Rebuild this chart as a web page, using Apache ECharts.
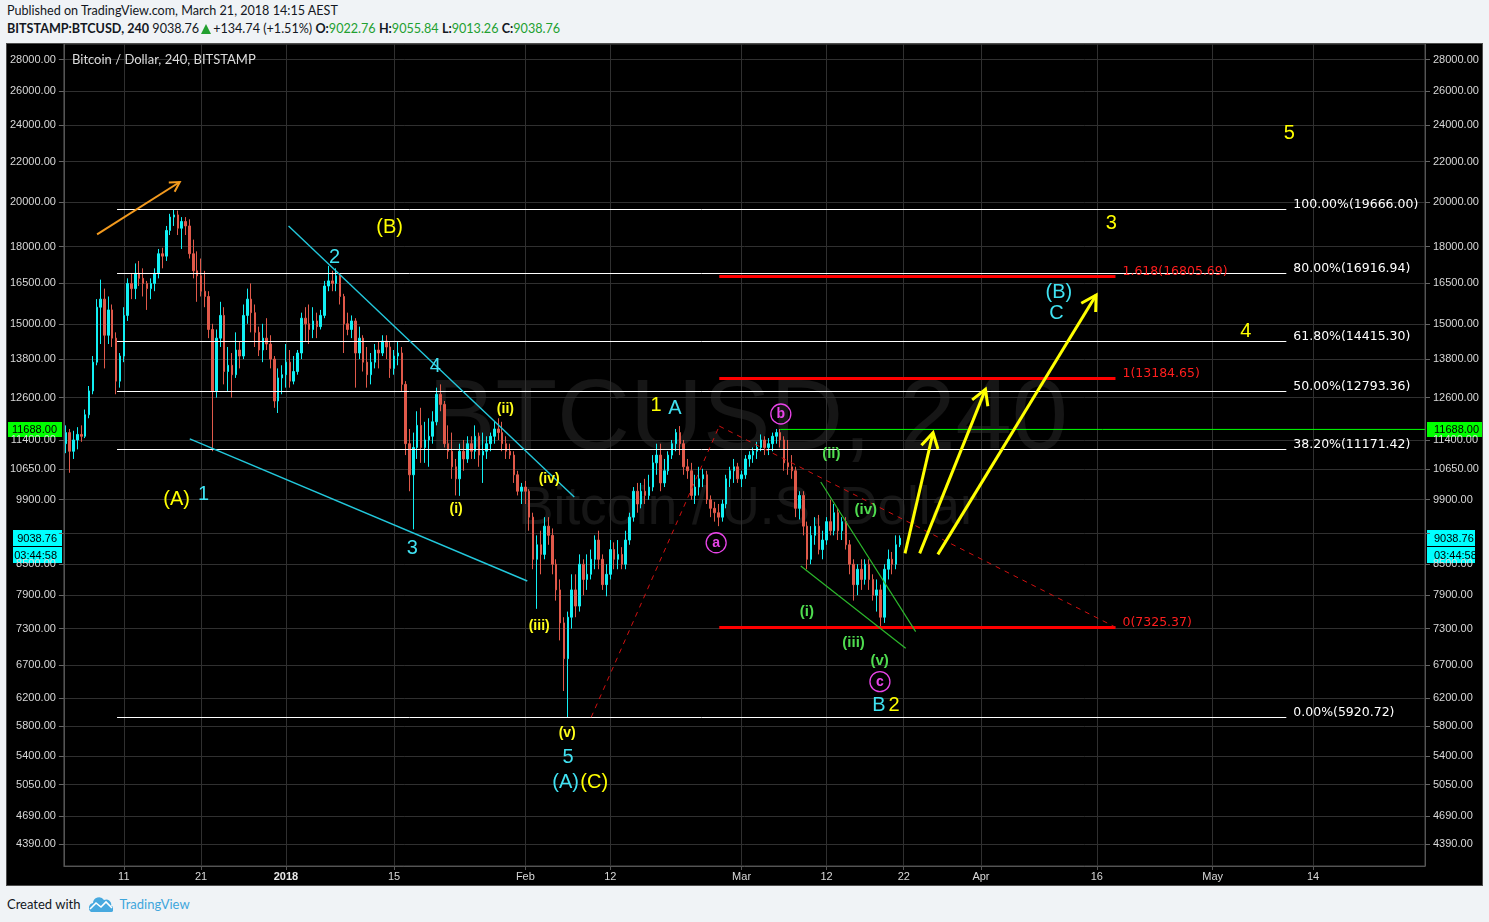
<!DOCTYPE html>
<html>
<head>
<meta charset="utf-8">
<title>BTCUSD 240</title>
<script src="https://cdn.jsdelivr.net/npm/echarts@6/dist/echarts.min.js"></script>
<style>
  body { margin: 0; width: 1489px; height: 922px; background: #f0f3f6; position: relative; overflow: hidden;
         font-family: Lato, "Liberation Sans", sans-serif; color: #131722; }
  .hdr { position: absolute; left: 7px; font-size: 12.6px; line-height: 16px; white-space: nowrap; }
  .g { color: #22a030; }
  .tri { display: inline-block; width: 0; height: 0; border-left: 5px solid transparent; border-right: 5px solid transparent;
         border-bottom: 10px solid #22a030; margin: 0 2px 0 2px; vertical-align: -1px; }
  #panel { position: absolute; left: 6px; top: 43px; width: 1477px; height: 843px; box-sizing: border-box;
           border: 1px solid #4d4d4d; background: #000; }
  #chart { position: absolute; left: 0; top: 0; width: 1475px; height: 841px; }
  #foot { position: absolute; left: 7px; top: 895px; font-size: 13px; line-height: 18px; white-space: nowrap; }
  #foot svg { vertical-align: -3px; margin: 0 6px 0 9px; }
  #foot span { color: #3fa6dc; }
</style>
</head>
<body>
<div class="hdr" style="top:3px">Published on TradingView.com, March 21, 2018 14:15 AEST</div>
<div class="hdr" style="top:21px"><b>BITSTAMP:BTCUSD, 240</b> 9038.76<span class="tri"></span>+134.74 (+1.51%) <b>O:</b><span class="g">9022.76</span> <b>H:</b><span class="g">9055.84</span> <b>L:</b><span class="g">9013.26</span> <b>C:</b><span class="g">9038.76</span></div>
<div id="panel"><div id="chart"></div></div>
<div id="foot">Created with<svg width="24" height="15" viewBox="0 0 24 15"><path d="M2 15 A5 5 0 0 1 4 6 A6 6 0 0 1 15 3 A5 5 0 0 1 22 9 A3 3 0 0 1 21 15 Z" fill="#47a9df"/><polyline points="1,12 7,6 12,10 17,5 23,11" fill="none" stroke="#fff" stroke-width="1.6"/></svg><span>TradingView</span></div>
<script>
// 12h candles from 3 Dec 2017 12:00 UTC, rows are [open, close, low, high]
const candleStart = Date.UTC(2017, 11, 3, 12);
const candleStep = 12 * 3600 * 1000;

const dec = [
  [11300, 11600, 11050, 11800], [11600, 11100, 10550, 11700], [11100, 11400, 10900, 11650], [11400, 11550, 11150, 11750],
  [11550, 11500, 11350, 11800], [11500, 12100, 11450, 12250], [12100, 12800, 12000, 12950], [12800, 13700, 12700, 13900],
  [13700, 15600, 13600, 15900], [15600, 15900, 14300, 16650], [15900, 14600, 13500, 16300], [14600, 15500, 14300, 16000],
  [15500, 14500, 14200, 15700], [14500, 13100, 12700, 14700], [13100, 13900, 12900, 14000], [13900, 15300, 13700, 15600],
  [15300, 16500, 15100, 16700], [16500, 16300, 15900, 16900], [16300, 16900, 15900, 17300], [16900, 16700, 16400, 17400],
  [16700, 16500, 16000, 17100], [16500, 16300, 15500, 16600], [16300, 16500, 15900, 16700], [16500, 16900, 16200, 17100],
  [16900, 17700, 16700, 17900], [17700, 17600, 17100, 17950], [17600, 18700, 17400, 18900], [18700, 19300, 18500, 19450],
  [19300, 19400, 18900, 19666], [19400, 18800, 18500, 19600], [18800, 19100, 17900, 19300], [19100, 18900, 18500, 19300],
  [18900, 17700, 17500, 19200], [17700, 17000, 16700, 18300], [17000, 16800, 15800, 17800], [16800, 16200, 16000, 17500],
  [16200, 16000, 15600, 17000], [16000, 14800, 14500, 16200], [14800, 12800, 11100, 15000], [12800, 14500, 12600, 14800],
  [14500, 15300, 14200, 15800], [15300, 13400, 13000, 15600], [13400, 13600, 12800, 14200], [13600, 13300, 12600, 14000],
  [13300, 14100, 13200, 14700], [14100, 13900, 13500, 14400], [13900, 15300, 13800, 15700], [15300, 15900, 15000, 16300],
  [15900, 15400, 14700, 16500], [15400, 14700, 14200, 15700], [14700, 14100, 13900, 14900], [14100, 14500, 13700, 15000],
  [14500, 14300, 14100, 15200], [14300, 13800, 13500, 14600], [13800, 12500, 12300, 13900], [12500, 13200, 12150, 13500],
  [13200, 13300, 12700, 13600]
];
const jan = [
  [13300, 13700, 12900, 14300], [13700, 13100, 12900, 14100], [13100, 13400, 13000, 13900], [13400, 14000, 13300, 14100],
  [14000, 15200, 13800, 15400], [15200, 15000, 14400, 15600], [15000, 14800, 14300, 15700], [14800, 15100, 14500, 15600],
  [15100, 14900, 14500, 15400], [14900, 15300, 14800, 15500], [15300, 16400, 15200, 16600], [16400, 16600, 16200, 17200],
  [16600, 16500, 16200, 17000], [16500, 16800, 16200, 17100], [16800, 16000, 15700, 16900], [16000, 15000, 14000, 16100],
  [15000, 14800, 14600, 15400], [14800, 15100, 14500, 15300], [15100, 14000, 12900, 15200], [14000, 14500, 13800, 14900],
  [14500, 13700, 13400, 14600], [13700, 13300, 12900, 14200], [13300, 13700, 13000, 14000], [13700, 14100, 13500, 14300],
  [14100, 14000, 13500, 14400], [14000, 14400, 13900, 14600], [14400, 14200, 13800, 14600], [14200, 13500, 13200, 14400],
  [13500, 13900, 13300, 14100], [13900, 14000, 13600, 14400], [14000, 13000, 12800, 14200], [13000, 11300, 11000, 13100],
  [11300, 10500, 10100, 11700], [10500, 11200, 9230, 11600], [11200, 11800, 10900, 12200], [11800, 11200, 10800, 12300],
  [11200, 11400, 10800, 11900], [11400, 11500, 10700, 12000], [11500, 11900, 11300, 12200], [11900, 12700, 11800, 12900],
  [12700, 12400, 12200, 13000], [12400, 11300, 11200, 12500], [11300, 11100, 10900, 11800], [11100, 10700, 10400, 11600],
  [10700, 10400, 10000, 10900], [10400, 11100, 9990, 11300], [11100, 10900, 10600, 11400], [10900, 11300, 10800, 11500],
  [11300, 11100, 10900, 11500], [11100, 11500, 10900, 11800], [11500, 11000, 10700, 11600], [11000, 11100, 10300, 11600],
  [11100, 11300, 10900, 11500], [11300, 11500, 11100, 11600], [11500, 11700, 11300, 11900], [11700, 11600, 11400, 12000],
  [11600, 11300, 11100, 11900], [11300, 11100, 10900, 11500], [11100, 11000, 10900, 11300], [11000, 10500, 10300, 11100],
  [10500, 10100, 10000, 10600], [10100, 10200, 9800, 10300]
];
const feb = [
  [10200, 10100, 9800, 10350], [10100, 9500, 9200, 10150], [9500, 8600, 8400, 9600], [8600, 8900, 7650, 9100],
  [8900, 8700, 8300, 9200], [8700, 9300, 8600, 9500], [9300, 9100, 8900, 9500], [9100, 8500, 8300, 9250],
  [8500, 8000, 7800, 8600], [8000, 7400, 7100, 8200], [7400, 6800, 6300, 7500], [6800, 7500, 5920, 7600],
  [7500, 8000, 7300, 8300], [8000, 7700, 7500, 8300], [7700, 8500, 7600, 8700], [8500, 8200, 7900, 8600],
  [8200, 8300, 8000, 8700], [8300, 8600, 8200, 8800], [8600, 9000, 8400, 9100], [9000, 8600, 8400, 9200],
  [8600, 8100, 8000, 8700], [8100, 8300, 7880, 8500], [8300, 8800, 8200, 9000], [8800, 8600, 8400, 8950],
  [8600, 8700, 8400, 9000], [8700, 8500, 8400, 8850], [8500, 9000, 8400, 9200], [9000, 9500, 8900, 9600],
  [9500, 10100, 9400, 10200], [10100, 9800, 9600, 10300], [9800, 10100, 9700, 10300], [10100, 10000, 9800, 10400],
  [10000, 10200, 9900, 10500], [10200, 10800, 10100, 11000], [10800, 11000, 10500, 11300], [11000, 10300, 10100, 11300],
  [10300, 10600, 10200, 10900], [10600, 11000, 10500, 11100], [11000, 11300, 10900, 11400], [11300, 11600, 11100, 11700],
  [11600, 11300, 11000, 11780], [11300, 10700, 10500, 11400], [10700, 10600, 10400, 10900], [10600, 10000, 9900, 10800],
  [10000, 10200, 9800, 10500], [10200, 10400, 10000, 10700], [10400, 10500, 10200, 10650], [10500, 9900, 9800, 10600],
  [9900, 9700, 9500, 10000], [9700, 9600, 9400, 9850], [9600, 9500, 9300, 9800], [9500, 9800, 9400, 9900],
  [9800, 10400, 9700, 10500], [10400, 10600, 10200, 10700], [10600, 10700, 10300, 10900], [10700, 10400, 10300, 10800]
];
const mar = [
  [10400, 10500, 10200, 10600], [10500, 10900, 10400, 11000], [10900, 11000, 10700, 11100], [11000, 11100, 10800, 11200],
  [11100, 11200, 10900, 11350], [11200, 11400, 11100, 11550], [11400, 11200, 11000, 11500], [11200, 11300, 11000, 11450],
  [11300, 11500, 11100, 11600], [11500, 11600, 11300, 11700], [11600, 11400, 11200, 11700], [11400, 10800, 10600, 11500],
  [10800, 10700, 10500, 11400], [10700, 10600, 10400, 11000], [10600, 9700, 9500, 10700], [9700, 10000, 9450, 10100],
  [10000, 9300, 9100, 10100], [9300, 8600, 8400, 9400], [8600, 9100, 8500, 9300], [9100, 9300, 8900, 9500],
  [9300, 8800, 8700, 9550], [8800, 9000, 8600, 9200], [9000, 9400, 8900, 9500], [9400, 9200, 9100, 9900],
  [9200, 9600, 9100, 9800], [9600, 9200, 9000, 9700], [9200, 9400, 9000, 9500], [9400, 8900, 8800, 9500],
  [8900, 8500, 8300, 9000], [8500, 8100, 7800, 8600], [8100, 8400, 7900, 8500], [8400, 8200, 8000, 8600],
  [8200, 8500, 8100, 8600], [8500, 8200, 8000, 8600], [8200, 7900, 7800, 8300], [7900, 8000, 7600, 8200],
  [8000, 7500, 7325, 8100], [7500, 8400, 7400, 8500], [8400, 8600, 8200, 8800], [8600, 8500, 8300, 8750],
  [8500, 8900, 8400, 9100], [8900, 9038.76, 8850, 9100]
];

const lastPrice = 9038.76;
const drawnLevel = 11688;
const countdown = '03:44:58';

// axes
const xMin = Date.parse('2017-12-03T05:47Z');
const xMax = Date.parse('2018-05-28T12:00Z');
const xTickDates = ['2017-12-11', '2017-12-21', '2018-01-01', '2018-01-15', '2018-02-01', '2018-02-12', '2018-03-01',
                    '2018-03-12', '2018-03-22', '2018-04-01', '2018-04-16', '2018-05-01', '2018-05-14'];
const xTickText = ['11', '21', '2018', '15', 'Feb', '12', 'Mar', '12', '22', 'Apr', '16', 'May', '14'];
const yTicks = [28000, 26000, 24000, 22000, 20000, 18000, 16500, 15000, 13800, 12600, 11400, 10650, 9900, 9150,
                8500, 7900, 7300, 6700, 6200, 5800, 5400, 5050, 4690, 4390];
const yMin = 4167, yMax = 29050;

// fib retracement drawn from the Dec top to the Feb low
const fibStart = '2017-12-10T03:00Z', fibEnd = '2018-05-10T13:00Z';
const fibLevels = [19666, 16916.94, 14415.30, 12793.36, 11171.42, 5920.72];
const fibPercent = ['100.00%', '80.00%', '61.80%', '50.00%', '38.20%', '0.00%'];

// trend based fib extension
const extPoints = [['2018-02-09T12:30Z', 5920.72], ['2018-02-26T02:40Z', 11780], ['2018-04-18T10:00Z', 7325.37]];
const extLevels = [16805.69, 13184.65, 7325.37];
const extRatio = ['1.618', '1', '0'];

// hand drawn lines [t1, p1, t2, p2]
const cyanLines = [
  ['2018-01-01T08:00Z', 18898, '2018-02-07T08:00Z', 9963],
  ['2017-12-19T13:00Z', 11427, '2018-02-01T06:00Z', 8170]
];
const greenLines = [
  ['2018-03-11T06:00Z', 10322, '2018-03-23T13:00Z', 7248],
  ['2018-03-08T16:00Z', 8464, '2018-03-22T06:00Z', 6969]
];
const levelLine = [['2018-03-06T00:00Z', drawnLevel, '2018-05-28T12:00Z', drawnLevel]];
const yellowArrows = [
  ['2018-03-22T04:00Z', 8722, '2018-03-25T19:00Z', 11596],
  ['2018-03-24T01:30Z', 8722, '2018-04-01T14:00Z', 12848],
  ['2018-03-26T10:00Z', 8700, '2018-04-15T22:00Z', 16056]
];
const orangeArrow = [['2017-12-07T13:00Z', 18530, '2017-12-18T06:00Z', 20968]];

// wave counts [text, time, price, degree]
const waveLabels = [
  ['(B)', '2018-01-14T10:00Z', 18853, 'Y'], ['2', '2018-01-07T07:00Z', 17563, 'C'],
  ['3', '2018-01-17T09:00Z', 8832, 'C'], ['4', '2018-01-20T08:00Z', 13576, 'C'],
  ['(A)', '2017-12-17T20:00Z', 9916, 'Y'], ['1', '2017-12-21T08:00Z', 10034, 'C'],
  ['(i)', '2018-01-23T01:00Z', 9684, 'y'], ['(ii)', '2018-01-29T10:00Z', 12264, 'y'],
  ['(iii)', '2018-02-02T19:00Z', 7346, 'y'], ['(iv)', '2018-02-04T02:00Z', 10394, 'y'],
  ['(v)', '2018-02-06T10:00Z', 5708, 'y'], ['5', '2018-02-06T13:00Z', 5382, 'C'],
  ['(A)', '2018-02-06T05:00Z', 5070, 'C'], ['(C)', '2018-02-09T22:00Z', 5070, 'Y'],
  ['1', '2018-02-17T22:00Z', 12380, 'Y'], ['A', '2018-02-20T09:00Z', 12294, 'C'],
  ['a', '2018-02-25T17:00Z', 8942, 'M'], ['b', '2018-03-06T02:00Z', 12121, 'M'],
  ['(ii)', '2018-03-12T15:00Z', 11028, 'G'], ['(iv)', '2018-03-17T02:00Z', 9662, 'G'],
  ['(i)', '2018-03-09T11:00Z', 7587, 'G'], ['(iii)', '2018-03-15T12:00Z', 7052, 'G'],
  ['(v)', '2018-03-18T21:00Z', 6762, 'G'], ['c', '2018-03-18T22:00Z', 6441, 'M'],
  ['B', '2018-03-18T19:00Z', 6094, 'C'], ['2', '2018-03-20T18:00Z', 6094, 'Y'],
  ['(B)', '2018-04-11T02:00Z', 16143, 'C'], ['C', '2018-04-10T19:00Z', 15377, 'C'],
  ['3', '2018-04-17T21:00Z', 19018, 'Y'], ['4', '2018-05-05T07:00Z', 14722, 'Y'],
  ['5', '2018-05-10T22:00Z', 23541, 'Y']
];

const UP = '#12f0f4', DOWN = '#e0594a';
const labelFont = {
  Y: { color: '#ffff00', font: '20px "Liberation Sans"' },
  C: { color: '#40e2f2', font: '20px "Liberation Sans"' },
  y: { color: '#ffff1a', font: 'bold 14px "Liberation Sans"' },
  G: { color: '#4fdc4f', font: 'bold 15px "Liberation Sans"' },
  M: { color: '#e844e8', font: 'bold 14px "Liberation Sans"', ring: true }
};

const candles = [...dec, ...jan, ...feb, ...mar].map((r, i) => [candleStart + i * candleStep, ...r]);
const xTickTimes = xTickDates.map(d => Date.parse(d));
const crisp = v => Math.round(v) + 0.5;

function segSeries(rows, stroke, width, head, dash) {
  return {
    type: 'custom', z: 4, silent: true,
    data: rows.map(r => [Date.parse(r[0]), r[1], Date.parse(r[2]), r[3]]),
    encode: { x: [0, 2], y: [1, 3] },
    renderItem: (params, api) => {
      const a = api.coord([api.value(0), api.value(1)]);
      const b = api.coord([api.value(2), api.value(3)]);
      const kids = [{ type: 'line', shape: { x1: a[0], y1: a[1], x2: b[0], y2: b[1] },
                      style: { stroke, lineWidth: width, lineDash: dash || null } }];
      if (head) {
        const ang = Math.atan2(a[1] - b[1], a[0] - b[0]);
        const p1 = [b[0] + head * Math.cos(ang - 0.52), b[1] + head * Math.sin(ang - 0.52)];
        const p2 = [b[0] + head * Math.cos(ang + 0.52), b[1] + head * Math.sin(ang + 0.52)];
        kids.push({ type: 'polyline', shape: { points: [p1, b, p2] },
                    style: { stroke, lineWidth: width, fill: null, lineJoin: 'miter' } });
      }
      return { type: 'group', children: kids };
    }
  };
}

function levelSeries(levels, t1, t2, stroke, width, textOf, textColor) {
  return {
    type: 'custom', z: 3, silent: true,
    data: levels.map(v => [Date.parse(t1), v, Date.parse(t2), v]),
    encode: { x: [0, 2], y: [1, 3] },
    renderItem: (params, api) => {
      const a = api.coord([api.value(0), api.value(1)]);
      const b = api.coord([api.value(2), api.value(3)]);
      const y = width % 2 ? crisp(a[1]) : Math.round(a[1]);
      return { type: 'group', children: [
        { type: 'line', shape: { x1: a[0], y1: y, x2: b[0], y2: y }, style: { stroke, lineWidth: width } },
        { type: 'text', x: b[0] + 7, y: y - 5,
          style: { text: textOf(params.dataIndex), fill: textColor, font: '12.5px "DejaVu Sans"', verticalAlign: 'middle' } }
      ] };
    }
  };
}

const yAxisBase = {
  type: 'log', logBase: 10, min: yMin, max: yMax,
  axisLine: { show: true, lineStyle: { color: '#555555' } },
  axisTick: { show: true, length: 5, customValues: yTicks, lineStyle: { color: '#666666' } },
  axisLabel: { customValues: yTicks.filter(v => v !== 9150), formatter: v => Number(v).toFixed(2),
               color: '#d8d8d8', fontFamily: 'Liberation Sans', fontSize: 11, margin: 8 },
  splitLine: { show: false }
};

const staticGraphic = [
  { type: 'text', z: 0, silent: true, x: 741, y: 377,
    style: { text: 'BTCUSD, 240', font: '101px "Liberation Sans"', fill: 'rgba(255,255,255,0.085)', align: 'center', verticalAlign: 'middle' } },
  { type: 'text', z: 0, silent: true, x: 741, y: 465,
    style: { text: 'Bitcoin / U.S. Dollar', font: '53px "Liberation Sans"', fill: 'rgba(255,255,255,0.085)', align: 'center', verticalAlign: 'middle' } },
  { type: 'text', z: 10, silent: true, x: 65, y: 16,
    style: { text: 'Bitcoin / Dollar, 240, BITSTAMP', font: '13px Lato', fill: '#dcdcdc', verticalAlign: 'middle' } }
];

const chart = echarts.init(document.getElementById('chart'), null, { renderer: 'canvas' });
const option = {
  animation: false,
  backgroundColor: '#000000',
  grid: { left: 55, right: 57, top: 0, bottom: 19, show: true, borderColor: '#4d4d4d', borderWidth: 1 },
  xAxis: {
    // dates are kept as epoch milliseconds on a plain value scale
    type: 'value', min: xMin, max: xMax, scale: true,
    axisLine: { show: true, onZero: false, lineStyle: { color: '#555555' } },
    axisTick: { show: true, length: 4, customValues: xTickTimes, lineStyle: { color: '#555555' } },
    axisLabel: {
      customValues: xTickTimes, color: '#d8d8d8', fontFamily: 'Liberation Sans', fontSize: 11, margin: 5,
      formatter: v => { const i = xTickTimes.indexOf(+v); const s = i < 0 ? '' : xTickText[i]; return s === '2018' ? '{b|2018}' : s; },
      rich: { b: { fontWeight: 'bold', color: '#e8e8e8', fontFamily: 'Liberation Sans', fontSize: 11 } }
    },
    splitLine: { show: true, lineStyle: { color: '#303030', width: 1 } }
  },
  yAxis: [
    Object.assign({}, yAxisBase, { position: 'left', splitLine: { show: true, lineStyle: { color: '#303030', width: 1 } } }),
    Object.assign({}, yAxisBase, { position: 'right' })
  ],
  graphic: staticGraphic,
  series: [
    {
      type: 'candlestick', name: 'BTCUSD', data: candles, barWidth: 2,
      itemStyle: { color: UP, color0: DOWN, borderColor: UP, borderColor0: DOWN, borderWidth: 1 }
    },
    levelSeries(fibLevels, fibStart, fibEnd, '#ffffff', 1,
      i => fibPercent[i] + '(' + fibLevels[i].toFixed(2) + ')', '#ffffff'),
    levelSeries(extLevels, extPoints[1][0], extPoints[2][0], '#ff0000', 3,
      i => extRatio[i] + '(' + extLevels[i].toFixed(2) + ')', '#ff1e1e'),
    segSeries([[extPoints[0][0], extPoints[0][1], extPoints[1][0], extPoints[1][1]],
               [extPoints[1][0], extPoints[1][1], extPoints[2][0], extPoints[2][1]]], '#d01010', 1, 0, [5, 5]),
    segSeries(levelLine, '#00ff00', 1, 0),
    segSeries(cyanLines, '#22c8dc', 1.4, 0),
    segSeries(greenLines, '#2cb82c', 1.2, 0),
    segSeries(orangeArrow, '#f39a1e', 2, 11),
    segSeries(yellowArrows, '#ffff00', 3, 17),
    {
      type: 'custom', z: 5, silent: true,
      data: waveLabels.map(w => [Date.parse(w[1]), w[2]]),
      encode: { x: 0, y: 1 },
      renderItem: (params, api) => {
        const w = waveLabels[params.dataIndex];
        const s = labelFont[w[3]];
        const p = api.coord([api.value(0), api.value(1)]);
        const kids = [];
        if (s.ring) kids.push({ type: 'circle', shape: { cx: p[0], cy: p[1], r: 10 }, style: { fill: null, stroke: s.color, lineWidth: 1.3 } });
        kids.push({ type: 'text', x: p[0], y: p[1] + (s.ring ? 0.5 : 0),
                    style: { text: w[0], fill: s.color, font: s.font, align: 'center', verticalAlign: 'middle' } });
        return { type: 'group', children: kids };
      }
    }
  ]
};
chart.setOption(option);

// price boxes sitting on both price scales
function priceBox(x, w, yc, h, text, bg, align) {
  return { type: 'group', z: 20, silent: true, children: [
    { type: 'rect', shape: { x: x, y: Math.round(yc - h / 2), width: w, height: h }, style: { fill: bg } },
    { type: 'text', x: align === 'left' ? x + 7 : x + w - 5, y: Math.round(yc) + 0.5,
      style: { text: text, fill: '#000', font: '11px "Liberation Sans"', align: align, verticalAlign: 'middle' } }
  ] };
}
const yLevel = chart.convertToPixel({ yAxisIndex: 0 }, drawnLevel);
const yLast = chart.convertToPixel({ yAxisIndex: 0 }, lastPrice);
chart.setOption({ graphic: staticGraphic.concat([
  priceBox(1420, 55, yLevel, 15, drawnLevel.toFixed(2), '#00ff00', 'left'),
  priceBox(1, 54, yLevel, 15, drawnLevel.toFixed(2), '#00ff00', 'right'),
  priceBox(1420, 48, yLast, 16, lastPrice.toFixed(2), '#00ffff', 'left'),
  priceBox(1420, 48, yLast + 17, 16, countdown, '#00ffff', 'left'),
  priceBox(6, 49, yLast, 16, lastPrice.toFixed(2), '#00ffff', 'right'),
  priceBox(6, 49, yLast + 17, 16, countdown, '#00ffff', 'right')
]) });
</script>
</body>
</html>
